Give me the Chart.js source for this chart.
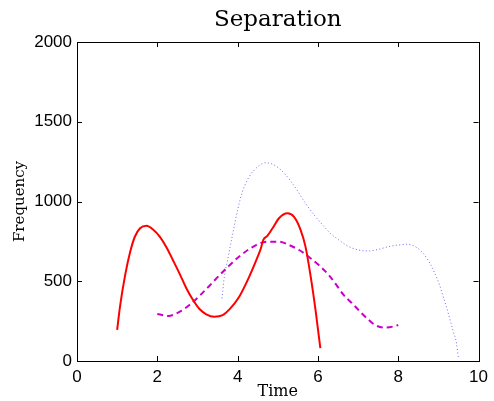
<!DOCTYPE html>
<html>
<head>
<meta charset="utf-8">
<script src="https://cdn.jsdelivr.net/npm/chart.js@4/dist/chart.umd.min.js"></script>
<style>
  html, body { margin: 0; padding: 0; background: #ffffff; }
  #wrap { width: 494px; height: 401px; }
</style>
</head>
<body>
<div id="wrap"><canvas id="c" width="494" height="401"></canvas></div>
<script>
// ---- data ----
const chartTitle = "Separation";
const xTitle = "Time";
const yTitle = "Frequency";
const xTicks = [0, 2, 4, 6, 8, 10];
const yTicks = [0, 500, 1000, 1500, 2000];

const redTime = [1.0, 1.07, 1.2, 1.32, 1.44, 1.57, 1.73, 1.9, 2.06, 2.23, 2.39, 2.56, 2.72, 2.89, 3.05, 3.22, 3.42, 3.63, 3.79, 4.04, 4.29, 4.5, 4.58, 4.64, 4.74, 4.87, 5.03, 5.24, 5.4, 5.57, 5.69, 5.82, 5.94, 6.06];
const redFreq = [195, 340, 540, 680, 779, 832, 848, 823, 780, 712, 632, 545, 458, 382, 326, 293, 278, 288, 322, 403, 529, 654, 707, 759, 784, 832, 895, 926, 905, 821, 717, 529, 320, 80];

const magTime = [2.0, 2.27, 2.56, 2.8, 3.05, 3.3, 3.55, 3.79, 4.04, 4.46, 4.74, 5.03, 5.28, 5.53, 5.77, 6.02, 6.27, 6.48, 6.64, 6.85, 7.05, 7.22, 7.42, 7.67, 7.92, 8.0];
const magFreq = [295, 282, 309, 351, 408, 472, 538, 598, 655, 727, 748, 748, 727, 696, 654, 602, 539, 470, 414, 362, 309, 268, 226, 209, 219, 226];

const blueTime = [3.61, 3.67, 3.75, 3.88, 4.0, 4.12, 4.29, 4.5, 4.7, 4.95, 5.2, 5.45, 5.69, 5.94, 6.19, 6.31, 6.52, 6.77, 7.01, 7.26, 7.51, 7.76, 8.0, 8.21, 8.42, 8.62, 8.79, 8.91, 9.03, 9.12, 9.2, 9.28, 9.36, 9.45, 9.5];
const blueFreq = [393, 529, 633, 800, 947, 1062, 1156, 1218, 1243, 1223, 1166, 1083, 989, 905, 832, 800, 759, 717, 696, 690, 700, 717, 727, 732, 717, 675, 612, 550, 476, 403, 340, 268, 194, 111, 15];

function pts(xs, ys) { return xs.map((x, i) => ({ x: x, y: ys[i] })); }

// Title centred over the plot area, box and inward ticks via the chart's scales
const boxTicks = {
  id: 'boxTicks',
  afterDraw(chart) {
    const { ctx, chartArea: a, scales } = chart;
    const L = 5;
    ctx.save();
    ctx.fillStyle = '#000';
    ctx.font = '23px "DejaVu Serif"';
    ctx.textAlign = 'center';
    ctx.textBaseline = 'alphabetic';
    ctx.fillText(chartTitle, (a.left + a.right) / 2, 26);

    ctx.strokeStyle = '#000';
    ctx.lineWidth = 1;
    ctx.strokeRect(Math.round(a.left) + 0.5, Math.round(a.top) + 0.5,
                   Math.round(a.right - a.left), Math.round(a.bottom - a.top));
    ctx.beginPath();
    xTicks.forEach(v => {
      const px = Math.round(scales.x.getPixelForValue(v)) + 0.5;
      ctx.moveTo(px, a.bottom); ctx.lineTo(px, a.bottom - L);
      ctx.moveTo(px, a.top); ctx.lineTo(px, a.top + L);
    });
    yTicks.forEach(v => {
      const py = Math.round(scales.y.getPixelForValue(v)) + 0.5;
      ctx.moveTo(a.left, py); ctx.lineTo(a.left + L, py);
      ctx.moveTo(a.right, py); ctx.lineTo(a.right - L, py);
    });
    ctx.stroke();
    ctx.restore();
  }
};

new Chart(document.getElementById('c'), {
  type: 'scatter',
  data: {
    datasets: [
      { data: pts(redTime, redFreq), showLine: true, borderColor: '#ff0000', borderWidth: 2,
        pointRadius: 0, cubicInterpolationMode: 'monotone', fill: false },
      { data: pts(magTime, magFreq), showLine: true, borderColor: '#c800c8', borderWidth: 2,
        borderDash: [6, 4], pointRadius: 0, cubicInterpolationMode: 'monotone', fill: false },
      { data: pts(blueTime, blueFreq), showLine: true, borderColor: 'rgba(70,70,255,0.8)', borderWidth: 1,
        borderDash: [1, 2.4], pointRadius: 0, cubicInterpolationMode: 'monotone', fill: false }
    ]
  },
  options: {
    responsive: false,
    animation: false,
    events: [],
    layout: { padding: { left: 0, right: 13, top: 42, bottom: 0 } },
    plugins: {
      legend: { display: false },
      tooltip: { enabled: false },
      title: { display: false }
    },
    scales: {
      x: {
        type: 'linear', min: 0, max: 10,
        afterBuildTicks: s => { s.ticks = xTicks.map(v => ({ value: v })); },
        afterFit: s => { s.height = 40; },
        grid: { display: false, drawTicks: false },
        border: { display: false },
        ticks: { color: '#000', padding: 6, maxRotation: 0,
                 font: { family: 'Liberation Sans', size: 17 } },
        title: { display: true, text: xTitle, color: '#000', padding: { top: 0, bottom: 0 },
                 font: { family: 'DejaVu Serif', size: 16 } }
      },
      y: {
        type: 'linear', min: 0, max: 2000,
        afterBuildTicks: s => { s.ticks = yTicks.map(v => ({ value: v })); },
        afterFit: s => { s.width = 77; },
        grid: { display: false, drawTicks: false },
        border: { display: false },
        ticks: { color: '#000', padding: 5, callback: v => String(v),
                 font: { family: 'Liberation Sans', size: 17 } },
        title: { display: true, text: yTitle, color: '#000', padding: { top: 11, bottom: 0 },
                 font: { family: 'DejaVu Serif', size: 15 } }
      }
    }
  },
  plugins: [boxTicks]
});
</script>
</body>
</html>
